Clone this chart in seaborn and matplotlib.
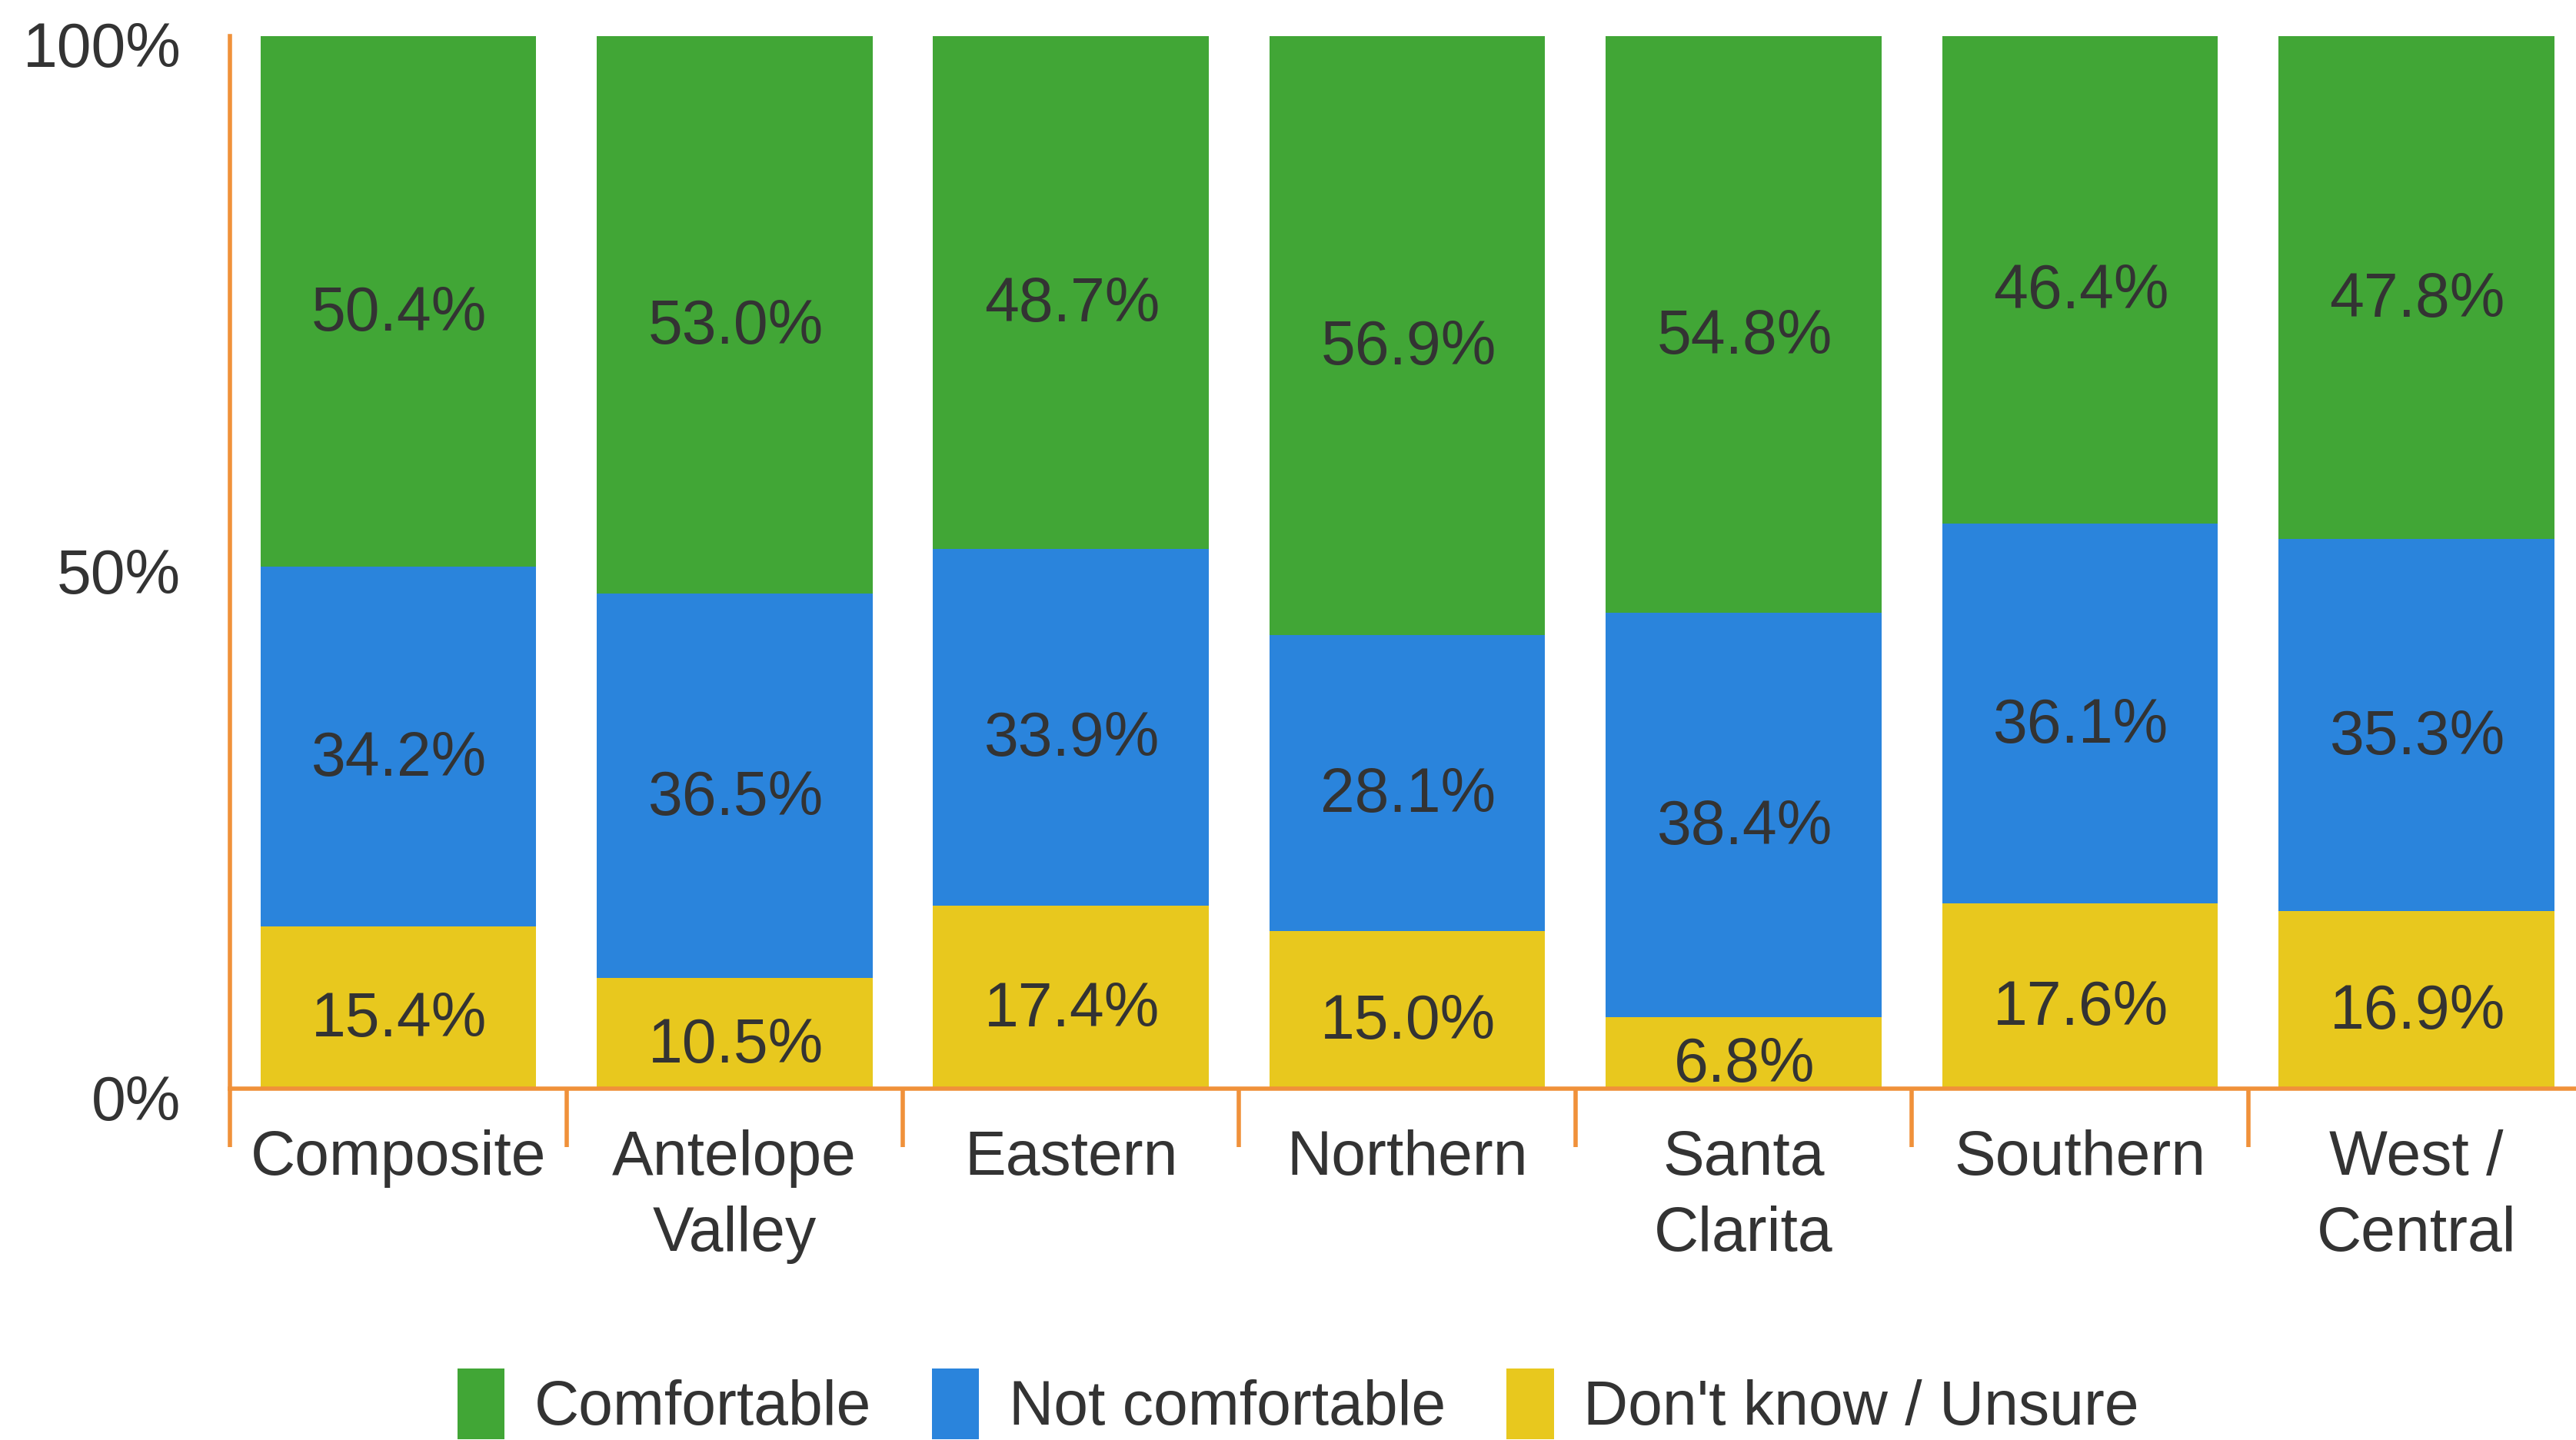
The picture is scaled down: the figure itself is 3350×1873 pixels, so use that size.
import matplotlib
matplotlib.use("Agg")
import matplotlib.pyplot as plt
from matplotlib.patches import Patch
from matplotlib.transforms import ScaledTranslation
import numpy as np
import pandas as pd
import seaborn as sns

categories = ["Composite", "Antelope\nValley", "Eastern", "Northern", "Santa\nClarita", "Southern", "West /\nCentral"]
comfortable = [50.4, 53.0, 48.7, 56.9, 54.8, 46.4, 47.8]
not_comfortable = [34.2, 36.5, 33.9, 28.1, 38.4, 36.1, 35.3]
unsure = [15.4, 10.5, 17.4, 15.0, 6.8, 17.6, 16.9]
series_names = ["Comfortable", "Not comfortable", "Don't know / Unsure"]
y_ticks = [0, 50, 100]
y_tick_labels = ["0%", "50%", "100%"]

GREEN = "#41a636"
BLUE = "#2a84dc"
YELLOW = "#e8c81e"
ORANGE = "#f0913a"
TEXT = "#333333"

sns.set_theme(style="white")
plt.rcParams["font.family"] = ["Liberation Sans", "DejaVu Sans"]

df = pd.DataFrame({
    "category": categories,
    "comfortable": comfortable,
    "not_comfortable": not_comfortable,
    "unsure": unsure,
})
df["bottom_blue"] = df["unsure"]
df["bottom_green"] = df["unsure"] + df["not_comfortable"]
df["top_green"] = df["bottom_green"] + df["comfortable"]
df["top_blue"] = df["bottom_green"]
df["top_yellow"] = df["unsure"]

fig = plt.figure(figsize=(33.5, 18.73), dpi=100)
ax = fig.add_axes([0.0893, 0.244, 0.914, 0.731])

FS = 58
bw = 0.82
sns.barplot(data=df, x="category", y="top_green", color=GREEN, width=bw,
            saturation=1, ax=ax, edgecolor="none", linewidth=0)
sns.barplot(data=df, x="category", y="top_blue", color=BLUE, width=bw,
            saturation=1, ax=ax, edgecolor="none", linewidth=0)
sns.barplot(data=df, x="category", y="top_yellow", color=YELLOW, width=bw,
            saturation=1, ax=ax, edgecolor="none", linewidth=0)

# segment labels
for i, row in df.iterrows():
    for lo, val in [(0, row["unsure"]), (row["bottom_blue"], row["not_comfortable"]),
                    (row["bottom_green"], row["comfortable"])]:
        ax.annotate(f"{val:.1f}%", xy=(i, lo + val / 2), xytext=(1, -12),
                    textcoords="offset points", ha="center", va="center",
                    fontsize=FS, color=TEXT)

ax.set_ylim(0, 100)
ax.set_xlim(-0.5, len(categories) - 0.5)
ax.set_yticks(y_ticks)
ax.set_yticklabels(y_tick_labels)
ax.set_xticks(range(len(categories)))
ax.set_xticklabels(categories, linespacing=1.4)
ax.set_xlabel("")
ax.set_ylabel("")

ax.tick_params(axis="y", length=0, pad=46, labelsize=FS, labelcolor=TEXT)
ax.tick_params(axis="x", which="major", length=0, pad=38, labelsize=FS, labelcolor=TEXT)
ax.set_xticks(np.arange(-0.5, len(categories), 1.0), minor=True)
ax.tick_params(axis="x", which="minor", bottom=True, length=55, width=4, color=ORANGE)

# nudge y tick labels slightly downward, as in the reference
offset = ScaledTranslation(0, -8 / 72, fig.dpi_scale_trans)
for t in ax.get_yticklabels():
    t.set_transform(t.get_transform() + offset)

for s in ["top", "right"]:
    ax.spines[s].set_visible(False)
for s in ["left", "bottom"]:
    ax.spines[s].set_color(ORANGE)
    ax.spines[s].set_linewidth(4)
    ax.spines[s].set_zorder(5)

handles = [Patch(facecolor=c, edgecolor="none") for c in [GREEN, BLUE, YELLOW]]
fig.legend(handles, series_names, loc="center", bbox_to_anchor=(0.504, 0.025),
           ncol=3, frameon=False, fontsize=FS, handlelength=0.76, handleheight=1.38,
           handletextpad=0.48, columnspacing=0.98, borderpad=0, labelcolor=TEXT)

fig.savefig("out.png", dpi=100, facecolor="white")
